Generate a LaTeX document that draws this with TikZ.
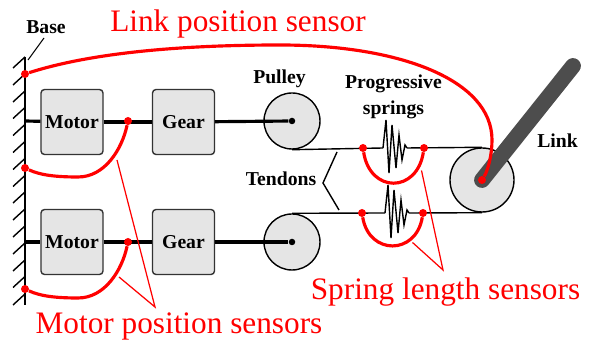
\documentclass[tikz,border=0pt]{standalone}
\usepackage{fontspec}
\setmainfont{Liberation Serif}
\definecolor{boxgray}{HTML}{E5E5E5}
\definecolor{linkgray}{HTML}{4D4D4D}
\tikzset{
    unit/.style={draw=black!80,fill=boxgray,line width=.8pt,rounded corners=2pt,minimum width=1.24cm,minimum height=1.3cm,inner sep=0pt,font=\fontsize{11.2}{13}\selectfont\bfseries},
    wheel/.style={draw,fill=boxgray,circle,line width=.8pt,inner sep=0pt},
    shaft/.style={line width=1.8pt},
    tendon/.style={line width=.8pt},
    sensor/.style={red,line width=1.8pt},
    leader/.style={red,line width=.7pt},
    reddot/.style={circle,fill=red,inner sep=0pt,minimum size=.16cm},
    blackdot/.style={circle,fill=black,inner sep=0pt,minimum size=.13cm},
    tag/.style={font=\fontsize{11.2}{13}\selectfont\bfseries,inner sep=0pt},
    redtag/.style={red,font=\fontsize{17.8}{20}\selectfont,inner sep=0pt}
}
\begin{document}
\begin{tikzpicture}
    \useasboundingbox (0,0) rectangle (11.86,6.82);
    % base
    \draw[line width=.8pt] (.5,5.68) -- (.5,.72);
    \foreach \y in {5.68,5.34,5.00,4.67,4.33,3.99,3.65,3.31,2.98,2.64,2.30,1.96,1.62,1.29,.94}
        \draw[line width=.8pt] (.5,\y) -- (.26,\y-.22);
    \node[tag] (base) at (.92,6.27) {Base};
    \coordinate (basetop) at (.88,6.06);
    \coordinate (basebot) at (.56,5.62);
    \draw[line width=.6pt] (basetop) -- (basebot);
    \coordinate (wall1) at (.5,4.40);
    \coordinate (wall2) at (.5,1.98);
    % motors, gears, pulleys
    \node[unit] (motor1) at (1.44,4.38) {Motor};
    \node[unit] (gear1) at (3.67,4.38) {Gear};
    \node[wheel,minimum size=1.12cm] (pulley1) at (5.84,4.40) {};
    \node[unit] (motor2) at (1.44,1.98) {Motor};
    \node[unit] (gear2) at (3.67,1.98) {Gear};
    \node[wheel,minimum size=1.12cm] (pulley2) at (5.84,1.98) {};
    \node[wheel,minimum size=1.28cm] (hub) at (9.64,3.22) {};
    \foreach \n in {1,2} {
        \node[blackdot] (axle\n) at (pulley\n.center) {};
        \draw[shaft] (wall\n) -- (motor\n);
        \draw[shaft] (motor\n) -- (gear\n);
        \draw[shaft] (gear\n) -- (axle\n);
    }
    % tendons and springs
    \foreach \n/\x/\y in {1/7.66/3.86,2/7.70/2.56} {
        \begin{scope}[shift={(\x,\y)}]
            \coordinate (in\n) at (0,0);
            \coordinate (out\n) at (.48,0);
            \draw[tendon] (in\n) -- (.06,.56) -- (.12,-.5) -- (.18,.46) -- (.26,-.4) -- (.32,.26) -- (.38,-.24) -- (.44,.06) -- (out\n);
        \end{scope}
    }
    \draw[tendon] (pulley1.south) -- (in1);
    \draw[tendon] (out1) -- (hub.north);
    \draw[tendon] (pulley2.north) -- (in2);
    \draw[tendon] (out2) -- (hub.south);
    % link
    \coordinate (linkend) at (11.46,5.5);
    \draw[linkgray,line width=9pt,line cap=round] (hub.center) -- (linkend);
    \node[tag] (link) at (11.15,4.00) {Link};
    \node[tag] (pulley) at (5.59,5.25) {Pulley};
    \node[tag] (progressive) at (7.87,5.15) {Progressive};
    \node[tag] (springs) at (7.87,4.63) {springs};
    \node[tag] (tendons) at (5.62,3.24) {Tendons};
    \coordinate (brace) at (6.46,3.16);
    \coordinate (braceup) at (6.74,3.78);
    \coordinate (bracedown) at (6.78,2.62);
    \draw[tendon] (braceup) -- (brace) -- (bracedown);
    % sensors
    \node[reddot] (linka) at (.5,5.34) {};
    \node[reddot] (linkb) at (9.64,3.22) {};
    \draw[sensor] (linka) .. controls (2,5.82) and (4,5.92) .. (5.6,5.92) .. controls (8,5.92) and (9.84,5.22) .. (9.84,4.02) .. controls (9.84,3.72) and (9.76,3.42) .. (linkb);
    \node[reddot] (shaft1) at (2.56,4.40) {};
    \node[reddot] (walldot1) at (.5,3.46) {};
    \draw[sensor] (shaft1) .. controls (2.44,3.84) and (2.10,3.28) .. (1.56,3.28) .. controls (1.10,3.28) and (.80,3.32) .. (walldot1);
    \node[reddot] (shaft2) at (2.56,1.98) {};
    \node[reddot] (walldot2) at (.5,1.04) {};
    \draw[sensor] (shaft2) .. controls (2.44,1.42) and (2.10,.86) .. (1.56,.86) .. controls (1.10,.86) and (.80,.90) .. (walldot2);
    \node[reddot] (springa1) at (7.26,3.86) {};
    \node[reddot] (springb1) at (8.48,3.86) {};
    \draw[sensor] (springa1) .. controls (7.4,2.95) and (8.34,2.95) .. (springb1);
    \node[reddot] (springa2) at (7.24,2.56) {};
    \node[reddot] (springb2) at (8.46,2.56) {};
    \draw[sensor] (springa2) .. controls (7.38,1.71) and (8.32,1.71) .. (springb2);
    % sensor labels
    \node[redtag] (linklabel) at (4.76,6.35) {Link position sensor};
    \node[redtag] (springlabel) at (8.91,.98) {Spring length sensors};
    \node[redtag] (motorlabel) at (3.58,.29) {Motor position sensors};
    \coordinate (springapex) at (8.86,1.42);
    \coordinate (springtip1) at (8.43,3.41);
    \coordinate (springtip2) at (8.25,1.97);
    \coordinate (motorapex) at (3.10,.68);
    \coordinate (motortip1) at (2.34,3.62);
    \coordinate (motortip2) at (2.38,1.28);
    \draw[leader] (springtip1) -- (springapex) -- (springtip2);
    \draw[leader] (motortip1) -- (motorapex) -- (motortip2);
\end{tikzpicture}
\end{document}
